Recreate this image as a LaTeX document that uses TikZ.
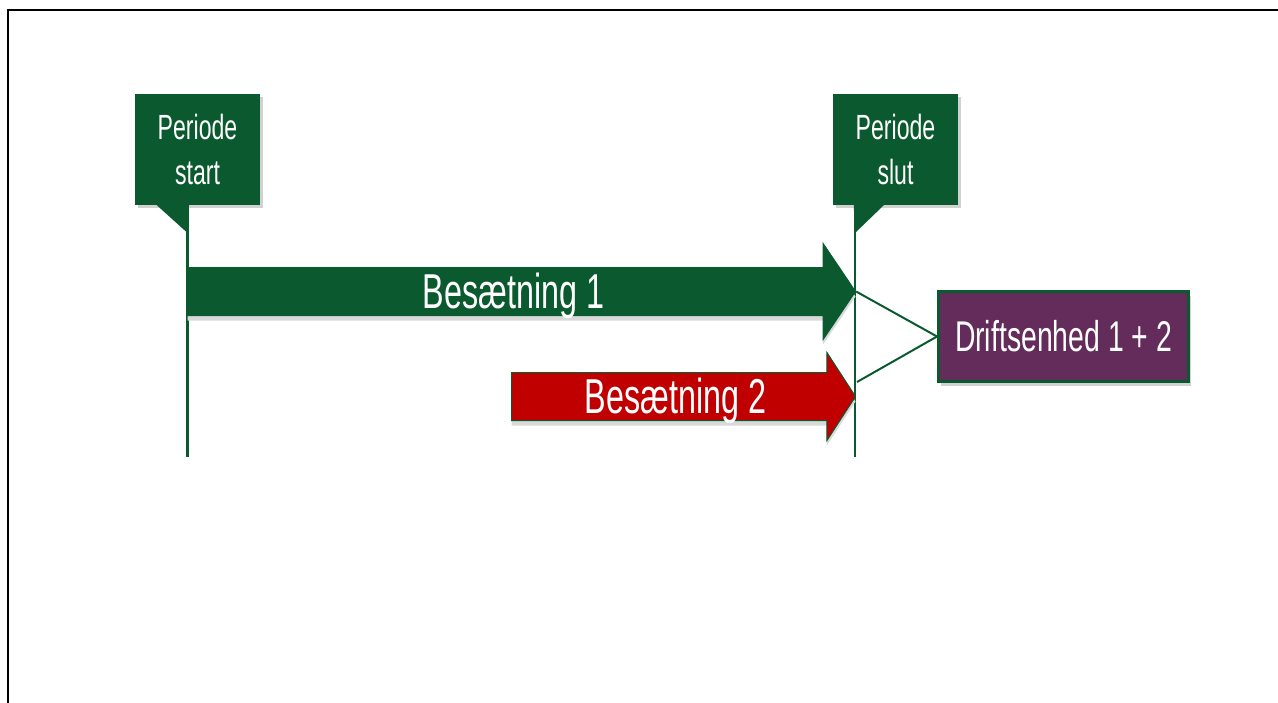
\documentclass[tikz,border=0pt]{standalone}
\usepackage{fontspec}
\setmainfont{Liberation Sans}[FakeStretch=0.66]
\usetikzlibrary{shapes, shadows, calc}
\definecolor{tidgreen}{HTML}{0B5A2F}
\definecolor{besred}{HTML}{C00000}
\definecolor{driftpurple}{HTML}{632C5A}
\tikzset{
  callout/.style = {
    rectangle, fill=tidgreen, text=white, align=center, inner sep=0pt,
    minimum width=125pt, minimum height=111pt,
    font=\fontsize{35}{45}\selectfont,
    drop shadow={shadow xshift=3pt, shadow yshift=-3pt, fill=black!18, opacity=1}
  },
  timearrow/.style = {
    single arrow, draw=tidgreen, line width=1pt, text=white, inner xsep=0pt, inner ysep=0pt,
    text height=40pt, text depth=7pt, font=\fontsize{49}{49}\selectfont,
    single arrow head indent=0pt, anchor=tail,
    drop shadow={shadow xshift=0pt, shadow yshift=-5pt, fill=black!15, opacity=1}
  },
  timeline/.style = {tidgreen, line width=2.5pt},
  link/.style = {tidgreen, line width=2pt}
}

\begin{document}
\begin{tikzpicture}[x=1pt, y=-1pt]

  \clip (0,0) rectangle (1278,702);

  % Frame
  \draw[line width=2pt] (8,10) rectangle (1300,720);

  % Period markers
  \node (pstart) [callout] at (197.5,149.5) {Periode\\start};
  \node (pslut) [callout] at (895.5,149.5) {Periode\\slut};
  \fill[tidgreen] ($(pstart.south west)+(22,0)$) -- ($(pstart.south west)+(53,0)$) -- ($(pstart.south west)+(53,28)$) -- cycle;
  \fill[tidgreen] ($(pslut.south west)+(21,0)$) -- ($(pslut.south west)+(51,0)$) -- ($(pslut.south west)+(22,28)$) -- cycle;
  \coordinate (tstart) at ($(pstart.south west)+(52.5,-1)$);
  \coordinate (tslut) at ($(pslut.south west)+(22,-1)$);
  \draw[timeline] (tstart) -- ++(0,253);
  \draw[timeline] (tslut) -- ++(0,253);

  % Herds
  \node (bes1) [timearrow, fill=tidgreen, minimum height=668pt, single arrow head extend=24pt, single arrow tip angle=112] at (187,291.5) {Besætning 1};
  \node (bes2) [timearrow, fill=besred, minimum height=344pt, single arrow head extend=20pt, single arrow tip angle=114] at (511,396.5) {Besætning 2};

  % Operating unit
  \node (drift) [rectangle, fill=driftpurple, draw=tidgreen, line width=3pt, text=white,
    minimum width=250pt, minimum height=90pt, font=\fontsize{43}{43}\selectfont,
    drop shadow={shadow xshift=2pt, shadow yshift=-4pt, fill=black!18, opacity=1}] at (1063.5,336.5) {Driftsenhed 1 + 2};
  \coordinate (j2) at (857,382);
  \draw[link] (bes1.tip) -- (drift.west);
  \draw[link] (j2) -- (drift.west);

\end{tikzpicture}
\end{document}
